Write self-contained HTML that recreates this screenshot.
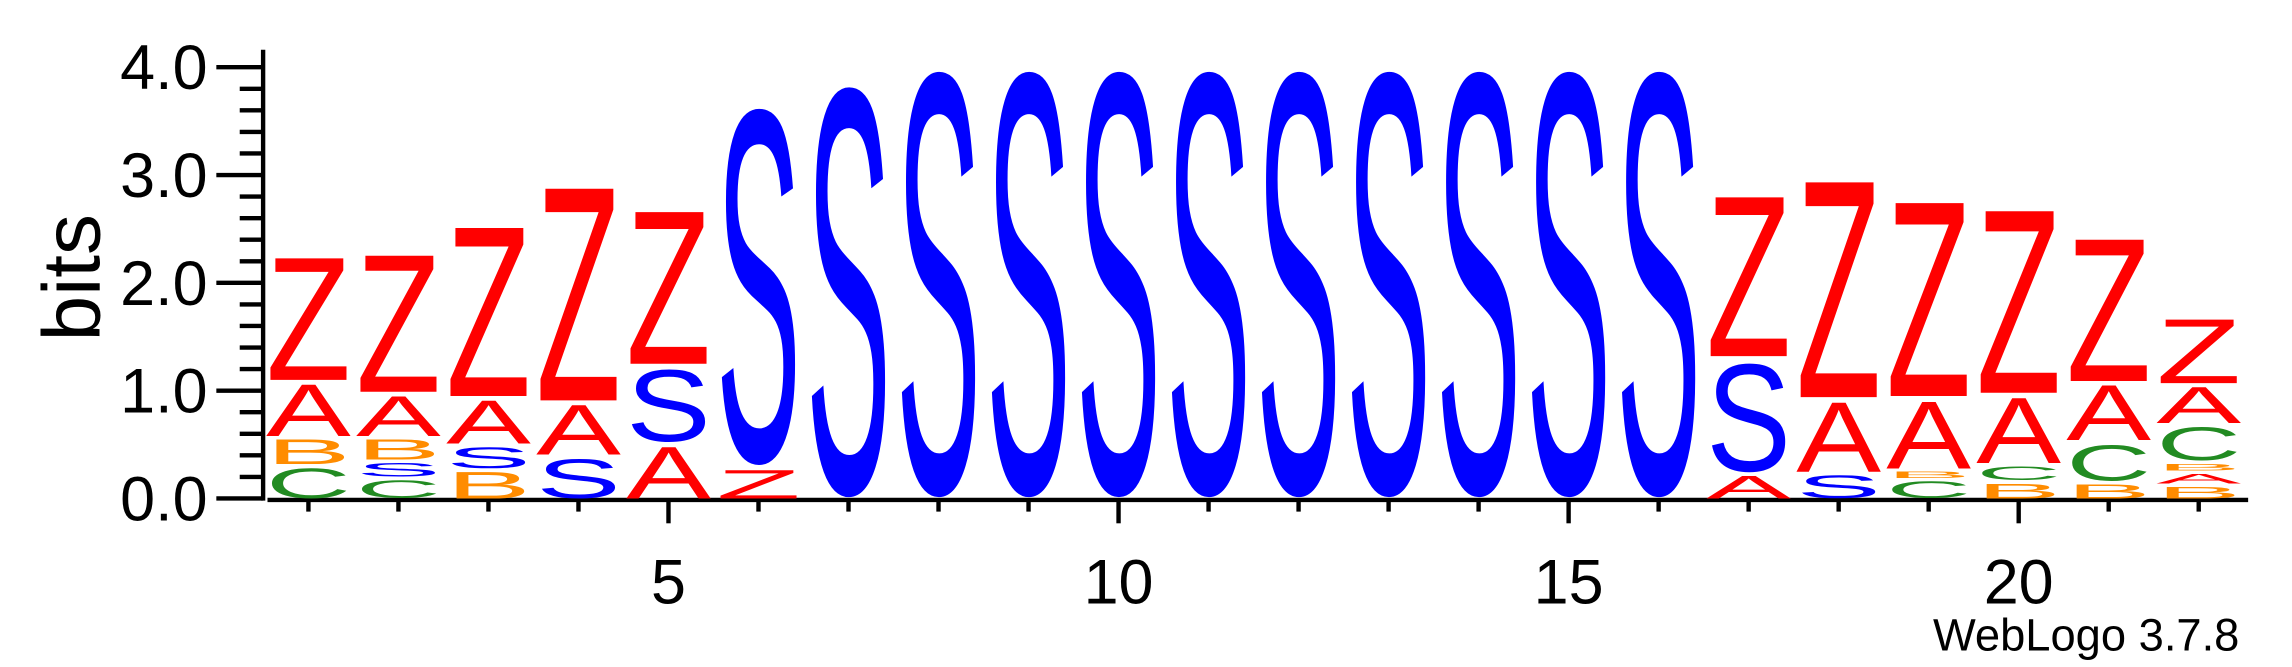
<!DOCTYPE html>
<html><head><meta charset="utf-8">
<style>
html,body{margin:0;padding:0;background:#fff;}
svg{display:block;}
text{font-family:"Liberation Sans",Arial,sans-serif;}
</style></head>
<body>
<svg id="logo" width="2292" height="667" viewBox="0 0 1568 456.3" preserveAspectRatio="none" xmlns="http://www.w3.org/2000/svg">
  <g id="yaxis"></g>
  <g id="xaxis"></g>
  <g id="stacks"></g>
  <text x="0" y="0" font-size="56" text-anchor="middle" transform="translate(68,190) rotate(-90)">bits</text>
  <text x="1532" y="445" font-size="31" text-anchor="end">WebLogo 3.7.8</text>
</svg>
<script>
const positions = [1,2,3,4,5,6,7,8,9,10,11,12,13,14,15,16,17,18,19,20,21,22];
const letters = [
  ["C","B","A","Z"],["C","S","B","A","Z"],["B","S","A","Z"],["S","A","Z"],["A","S","Z"],
  ["Z","S"],["S"],["S"],["S"],["S"],["S"],["S"],["S"],["S"],["S"],["S"],
  ["A","S","Z"],["S","A","Z"],["C","B","A","Z"],["B","C","A","Z"],["B","C","A","Z"],["B","A","B","C","A","Z"]
];
const heights = [
  [0.32,0.26,0.52,1.20],[0.20,0.16,0.22,0.41,1.34],[0.28,0.23,0.44,1.65],[0.41,0.50,2.07],[0.52,0.73,1.49],
  [0.30,3.48],[4.00],[4.15],[4.15],[4.15],[4.15],[4.15],[4.15],[4.15],[4.15],[4.15],
  [0.24,1.08,1.56],[0.25,0.69,2.10],[0.19,0.09,0.67,1.89],[0.17,0.16,0.65,1.78],[0.16,0.38,0.55,1.39],[0.14,0.12,0.09,0.35,0.37,0.64]
];
const yTicks = ["0.0","1.0","2.0","3.0","4.0"];
const xTickLabels = [5,10,15,20];
const colors = {A:"#ff0000",Z:"#ff0000",S:"#0000ff",B:"#ff8c00",C:"#228b22"};

const NS = "http://www.w3.org/2000/svg";
const y0 = 341, pxPerBit = 73.75;
const x0 = 211, step = 61.58;
function ys(v){ return y0 - v*pxPerBit; }
function xs(p){ return x0 + (p-1)*step; }
function mk(tag, attrs, parent){
  const e = document.createElementNS(NS, tag);
  for (const k in attrs) e.setAttribute(k, attrs[k]);
  parent.appendChild(e);
  return e;
}

const ya = document.getElementById('yaxis');
const yl = mk('line',{x1:180,y1:34,x2:180,y2:y0+1.5,stroke:'#000','stroke-width':3},ya);


for (let i=0;i<=20;i++){
  const v = i*0.2;
  const major = (i%5===0);
  const t = mk('line',{x1:major?148:164,y1:ys(v),x2:180,y2:ys(v),stroke:'#000','stroke-width':3},ya);
  
  
}
yTicks.forEach(function(lab){
  const v = parseFloat(lab);
  const t = mk('text',{x:142,y:ys(v)+15,'font-size':43,'text-anchor':'end'},ya);
  t.textContent = lab;
  
  
});

const xa = document.getElementById('xaxis');
const xl = mk('line',{x1:183,y1:y0+1,x2:1538,y2:y0+1,stroke:'#000','stroke-width':3},xa);


positions.forEach(function(p){
  const major = xTickLabels.indexOf(p) >= 0;
  const t = mk('line',{x1:xs(p),y1:y0+1,x2:xs(p),y2:major?y0+17:y0+9,stroke:'#000','stroke-width':3},xa);
  
  
});
xTickLabels.forEach(function(p){
  const t = mk('text',{x:xs(p),y:413,'font-size':43,'text-anchor':'middle'},xa);
  t.textContent = String(p);
  
  
});

const st = document.getElementById('stacks');
positions.forEach(function(p, i){
  const g = mk('g',{},st);
  
  
  let base = 0;
  letters[i].forEach(function(L, j){
    const h = heights[i][j];
    const bottom = ys(base);
    const hpx = h*pxPerBit - 2;
    base += h;
    if (hpx <= 0.5) return;
    const round = (L==='S'||L==='C');
    const cap = round ? 74 : 71.6;
    const off = round ? 1.2*hpx/cap : 0;
    const t = mk('text',{
      x:0,y:0,'font-size':100,fill:colors[L],
      textLength:58,lengthAdjust:'spacingAndGlyphs',
      transform:'translate('+(xs(p)-29)+','+(bottom-off)+') scale(1,'+(hpx/cap)+')'
    },g);
    t.textContent = L;
    
    
  });
});
</script>
</body></html>
